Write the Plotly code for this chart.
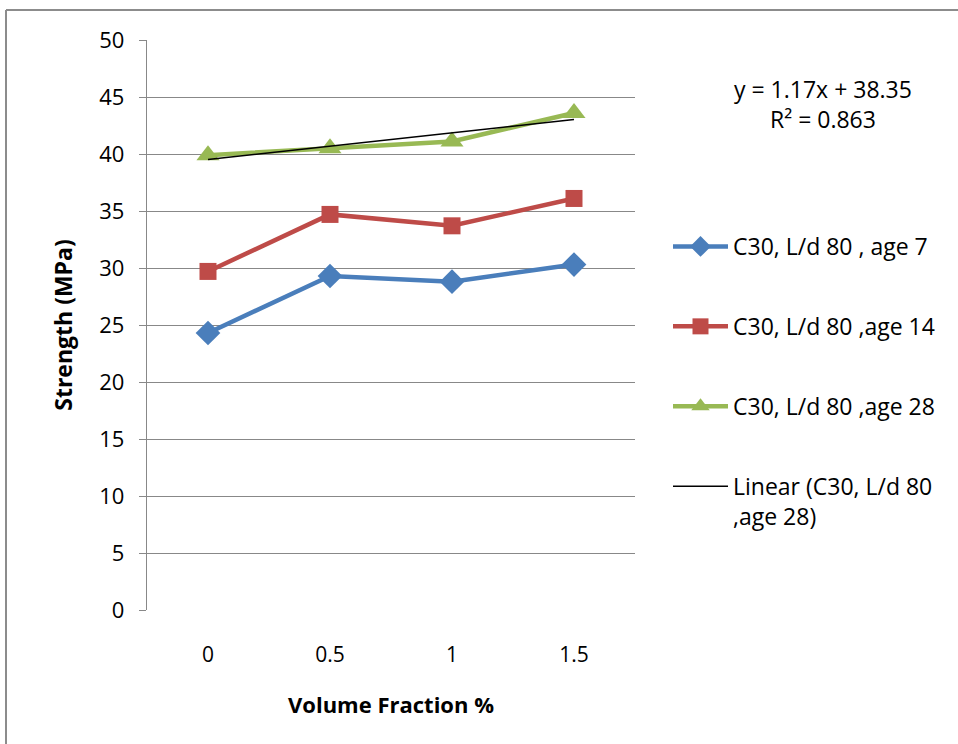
import numpy as np
import plotly.graph_objects as go

categories = ["0", "0.5", "1", "1.5"]
age7 = [24.3, 29.3, 28.8, 30.3]
age14 = [29.7, 34.7, 33.7, 36.1]
age28 = [39.9, 40.5, 41.1, 43.6]
names = ["C30, L/d 80 , age 7", "C30, L/d 80 ,age 14", "C30, L/d 80 ,age 28"]
trend_name = "Linear (C30, L/d 80<br>,age 28)"

idx = np.arange(len(categories))
# Excel trendline on a category axis uses x = 1..n
xfit = idx + 1
slope, intercept = np.polyfit(xfit, age28, 1)
pred = slope * xfit + intercept
r2 = 1 - np.sum((np.array(age28) - pred) ** 2) / np.sum((np.array(age28) - np.mean(age28)) ** 2)

FONT = "Open Sans"
fig = go.Figure()
styles = [
    ("#4A7EBB", "diamond", 19),
    ("#BE4B48", "square", 17),
    ("#98B954", "triangle-up", 20),
]
for vals, name, (col, sym, sz) in zip([age7, age14, age28], names, styles):
    fig.add_trace(go.Scatter(
        x=idx, y=vals, name=name, mode="lines+markers",
        line=dict(color=col, width=4.5),
        marker=dict(symbol=sym, size=sz, color=col),
        legendgroup=name,
    ))
fig.add_trace(go.Scatter(
    x=idx, y=pred, name=trend_name, mode="lines",
    line=dict(color="black", width=1.5), legendgroup="trend",
))

fig.add_annotation(
    xref="paper", yref="paper", x=(823 - 147) / 488, y=(610 - 104) / 570,
    xanchor="center", yanchor="middle", showarrow=False,
    text=f"y = {slope:.2f}x + {intercept:.2f}<br>R² = {r2:.3f}",
    font=dict(family=FONT, size=23, color="black"),
)

fig.add_shape(type="line", xref="paper", yref="paper",
              x0=(6 - 147) / 488, x1=(6 - 147) / 488, y0=(610 - 10) / 570, y1=(610 - 760) / 570,
              line=dict(color="#8c8c8c", width=2))
fig.add_shape(type="line", xref="paper", yref="paper",
              x0=(6 - 147) / 488, x1=(970 - 147) / 488, y0=(610 - 10) / 570, y1=(610 - 10) / 570,
              line=dict(color="#8c8c8c", width=2))

fig.update_layout(
    width=958, height=744,
    margin=dict(l=147, r=323, t=40, b=134),
    paper_bgcolor="white", plot_bgcolor="white",
    font=dict(family=FONT, size=21, color="black"),
    showlegend=True,
    legend=dict(
        x=(668 - 147) / 488, xanchor="left", y=(610 - 225) / 570, yanchor="top",
        tracegroupgap=47, itemwidth=55, font=dict(size=23), valign="top",
        bgcolor="rgba(0,0,0,0)",
    ),
    xaxis=dict(
        range=[-0.5, 3.5], tickmode="array", tickvals=idx, ticktext=categories,
        showgrid=False, zeroline=False, showline=False, ticks="",
        tickfont=dict(size=21), ticklabelstandoff=30,
        title=dict(text="<b>Volume Fraction %</b>", font=dict(size=22), standoff=30),
    ),
    yaxis=dict(
        range=[0, 50], dtick=5, showgrid=True, gridcolor="#888888", gridwidth=1.3,
        zeroline=False, showline=True, linecolor="#888888", linewidth=1.3,
        ticks="outside", ticklen=7, tickcolor="#888888", tickwidth=1.3,
        tickfont=dict(size=22), ticklabelstandoff=10,
        title=dict(text="<b>Strength (MPa)</b>", font=dict(size=23), standoff=20),
    ),
)

fig.write_html("out.html")
